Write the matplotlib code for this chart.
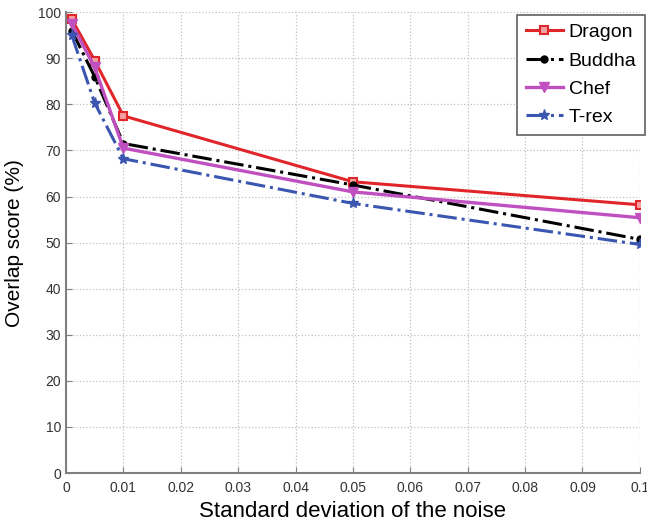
import matplotlib
matplotlib.use("Agg")
import matplotlib.pyplot as plt

# noise levels and overlap scores per model
noise_std = [0.001, 0.005, 0.01, 0.05, 0.1]
dragon = [98.5, 89.5, 77.5, 63.2, 58.2]
buddha = [96.0, 86.0, 71.5, 62.5, 50.7]
chef = [97.5, 88.0, 70.5, 61.0, 55.4]
trex = [95.0, 80.3, 68.2, 58.5, 49.6]

x_ticks = [0, 0.01, 0.02, 0.03, 0.04, 0.05, 0.06, 0.07, 0.08, 0.09, 0.1]
x_ticklabels = ["0", "0.01", "0.02", "0.03", "0.04", "0.05", "0.06", "0.07", "0.08", "0.09", "0.1"]
y_ticks = list(range(0, 101, 10))

plt.rcParams['font.family'] = ['Liberation Sans', 'DejaVu Sans']

fig = plt.figure(figsize=(6.47, 5.28), dpi=100)
ax = fig.add_axes([0.102, 0.104, 0.887, 0.873])

ax.plot(noise_std, dragon, color='#e0262a', linestyle='-', linewidth=2.2,
        marker='s', markersize=6, markerfacecolor='#f3a0a0', markeredgecolor='#e0262a',
        markeredgewidth=1.5, label='Dragon')
ax.plot(noise_std, buddha, color='black', linestyle='-.', linewidth=2.2,
        marker='o', markersize=5, label='Buddha')
ax.plot(noise_std, chef, color='#c050c0', linestyle='-', linewidth=2.4,
        marker='v', markersize=7, label='Chef')
ax.plot(noise_std, trex, color='#3a56b0', linestyle='-.', linewidth=2.2,
        marker='*', markersize=8, label='T-rex')

ax.set_xlim(0, 0.1)
ax.set_ylim(0, 100)
ax.set_xticks(x_ticks)
ax.set_xticklabels(x_ticklabels)
ax.set_yticks(y_ticks)
ax.tick_params(direction='in', length=4, color='#808080', labelsize=10,
               labelcolor='#333333')
ax.tick_params(axis='x', pad=6)

ax.grid(True, linestyle=':', color='#c0c0c0', linewidth=0.9)
for side in ['top', 'right']:
    ax.spines[side].set_visible(False)
for side in ['left', 'bottom']:
    ax.spines[side].set_color('#808080')
    ax.spines[side].set_linewidth(1.5)

ax.set_xlabel('Standard deviation of the noise', fontsize=16, labelpad=4)
ax.set_ylabel('Overlap score (%)', fontsize=15, labelpad=10)

leg = ax.legend(loc='upper right', bbox_to_anchor=(1.009, 0.994), borderaxespad=0,
                fontsize=14, fancybox=False, framealpha=1, edgecolor='#606060',
                handlelength=1.9, labelspacing=0.55, borderpad=0.45,
                handletextpad=0.3)
leg.get_frame().set_linewidth(1.2)

fig.savefig('out.png', dpi=100)
